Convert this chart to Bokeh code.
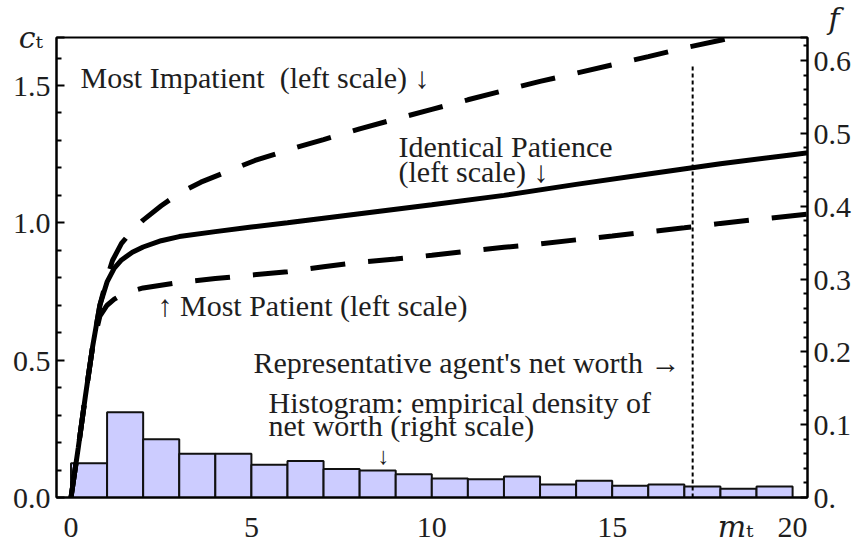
from bokeh.plotting import figure
from bokeh.models import Range1d, LinearAxis, FixedTicker, Label, ColumnDataSource
from bokeh.embed import file_html
from bokeh.resources import INLINE

# ---- data ----
m_identical = [0, 0.2, 0.4, 0.6, 0.8, 1.0, 1.2, 1.4, 1.7, 2.0, 2.5, 3.0, 4.0, 5.0, 6.0,
               8.0, 10.0, 12.0, 14.0, 16.0, 18.0, 20.0, 20.5]
c_identical = [0, 0.18, 0.37, 0.55, 0.70, 0.785, 0.835, 0.865, 0.893, 0.912, 0.935, 0.95,
               0.968, 0.985, 1.0, 1.033, 1.066, 1.10, 1.14, 1.178, 1.215, 1.248, 1.256]

m_impatient = [0, 0.2, 0.4, 0.6, 0.8, 1.0, 1.15, 1.4, 1.7, 2.0, 2.5, 3.0, 3.6, 4.5, 5.1,
               6.1, 7.0, 8.0, 9.0, 10.0, 11.0, 12.0, 13.0, 14.0, 15.0, 16.0, 17.0, 18.0, 19.0]
c_impatient = [0, 0.18, 0.37, 0.55, 0.70, 0.80, 0.863, 0.925, 0.972, 1.01, 1.062, 1.108,
               1.148, 1.196, 1.227, 1.269, 1.303, 1.342, 1.378, 1.413, 1.448, 1.482, 1.515,
               1.545, 1.575, 1.605, 1.637, 1.665, 1.695]

m_patient = [0, 0.2, 0.4, 0.6, 0.8, 1.0, 1.2, 1.5, 2.0, 3.0, 4.0, 5.0, 6.0, 7.0, 8.0, 9.0,
             10.0, 11.0, 12.0, 13.0, 14.0, 15.0, 16.0, 17.0, 18.0, 19.0, 20.0, 20.5]
c_patient = [0, 0.18, 0.37, 0.55, 0.66, 0.70, 0.722, 0.745, 0.763, 0.783, 0.797, 0.810,
             0.822, 0.840, 0.857, 0.868, 0.882, 0.897, 0.911, 0.923, 0.938, 0.952, 0.967,
             0.982, 0.998, 1.012, 1.026, 1.033]

hist_left = list(range(0, 20))
hist_right = list(range(1, 21))
hist_density = [0.047, 0.117, 0.080, 0.060, 0.060, 0.045, 0.050, 0.039, 0.037, 0.032,
                0.026, 0.025, 0.029, 0.018, 0.023, 0.016, 0.018, 0.015, 0.012, 0.015]

rep_agent_m = 17.23
rep_agent_top = 1.573

# ticks and tick labels (axis names sit at the axis ends, as in the original)
left_major = [0, 0.5, 1.0, 1.5, 1.674]
left_minor = [0.1, 0.2, 0.3, 0.4, 0.6, 0.7, 0.8, 0.9, 1.1, 1.2, 1.3, 1.4, 1.6]
left_tick_labels = {0: "0.0", 0.5: "0.5", 1.0: "1.0", 1.5: "1.5",
                    1.674: "\U0001D450\u209C\u00a0"}
right_major = [0, 0.1, 0.2, 0.3, 0.4, 0.5, 0.6, 0.631]
right_minor = [0.02, 0.04, 0.06, 0.08, 0.12, 0.14, 0.16, 0.18, 0.22, 0.24, 0.26, 0.28,
               0.32, 0.34, 0.36, 0.38, 0.42, 0.44, 0.46, 0.48, 0.52, 0.54, 0.56, 0.58, 0.62]
right_tick_labels = {0: "0.", 0.1: "0.1", 0.2: "0.2", 0.3: "0.3", 0.4: "0.4", 0.5: "0.5",
                     0.6: "0.6", 0.631: "\u00a0\u00a0\U0001D453\n\u00a0"}
bottom_major = [0, 5, 10, 15, 18.42, 20]
bottom_tick_labels = {0: "0", 5: "5", 10: "10", 15: "15", 18.42: "\U0001D45A\u209C", 20: "20"}

# ---- styling ----
ANN_FONT = "Liberation Serif, DejaVu Sans"
TXT = "#1e1e1e"
FS = "30px"

p = figure(width=857, height=555, output_backend="svg", toolbar_location=None,
           x_range=Range1d(-0.402, 20.413), y_range=Range1d(0, 1.6748),
           min_border_left=56, min_border_right=50, min_border_top=37, min_border_bottom=58)
p.extra_y_ranges = {"f": Range1d(0, 0.6316)}
p.grid.visible = False
p.outline_line_color = "black"
p.outline_line_width = 2
p.background_fill_color = "white"
p.border_fill_color = "white"

la = p.yaxis[0]
la.ticker = FixedTicker(ticks=left_major, minor_ticks=left_minor)
la.major_label_overrides = left_tick_labels
ba = p.xaxis[0]
ba.ticker = FixedTicker(ticks=bottom_major)
ba.major_label_overrides = bottom_tick_labels
ra = LinearAxis(y_range_name="f", ticker=FixedTicker(ticks=right_major, minor_ticks=right_minor))
ra.major_label_overrides = right_tick_labels
p.add_layout(ra, "right")

for ax in (la, ba, ra):
    ax.axis_line_color = "black"
    ax.axis_line_width = 2
    ax.major_tick_line_color = "black"
    ax.minor_tick_line_color = "black"
    ax.major_tick_line_width = 2
    ax.minor_tick_line_width = 2
    ax.major_tick_out = 0
    ax.minor_tick_out = 0
    ax.major_label_text_font = "Liberation Serif, DejaVu Serif"
    ax.major_label_text_font_size = "30px"
    ax.major_label_text_color = TXT
la.major_tick_in = 8
la.minor_tick_in = 5
ra.major_tick_in = 7
ra.minor_tick_in = 4
ba.major_tick_in = 0
ba.minor_tick_in = 0
la.major_label_standoff = 6
ra.major_label_standoff = 6
ba.major_label_standoff = 12

# histogram (right scale)
hsrc = ColumnDataSource(dict(left=hist_left, right=hist_right, top=hist_density,
                             bottom=[0] * len(hist_density)))
p.quad(left="left", right="right", top="top", bottom="bottom", source=hsrc,
       y_range_name="f", fill_color="#ccccff", line_color="#111111", line_width=2)

# consumption functions (left scale)
p.line(m_patient, c_patient, line_color="black", line_width=5, line_dash="35 23")
p.line(m_impatient, c_impatient, line_color="black", line_width=5, line_dash="35 23")
p.line(m_identical, c_identical, line_color="black", line_width=5)

# representative agent's net worth
p.line([rep_agent_m, rep_agent_m], [0, rep_agent_top], line_color="black",
       line_width=2, line_dash="4 3")


def lab(x, y, text, size=FS, align="left"):
    p.add_layout(Label(x=x, y=y, text=text, text_font=ANN_FONT, text_font_size=size,
                       text_color=TXT, text_baseline="alphabetic", text_align=align))


lab(0.263, 1.528, "Most Impatient\u00a0\u00a0(left scale) \u2193")
lab(9.077, 1.277, "Identical Patience")
lab(9.077, 1.188, "(left scale) \u2193")
lab(2.397, 0.700, "\u2191 Most Patient (left scale)")
lab(5.058, 0.492, "Representative agent's net worth \u2192")
lab(5.474, 0.345, "Histogram: empirical density of")
lab(5.474, 0.263, "net worth (right scale)")
lab(8.66, 0.150, "\u2193", size="24px", align="center")

open("out.html", "w").write(file_html(p, INLINE))
